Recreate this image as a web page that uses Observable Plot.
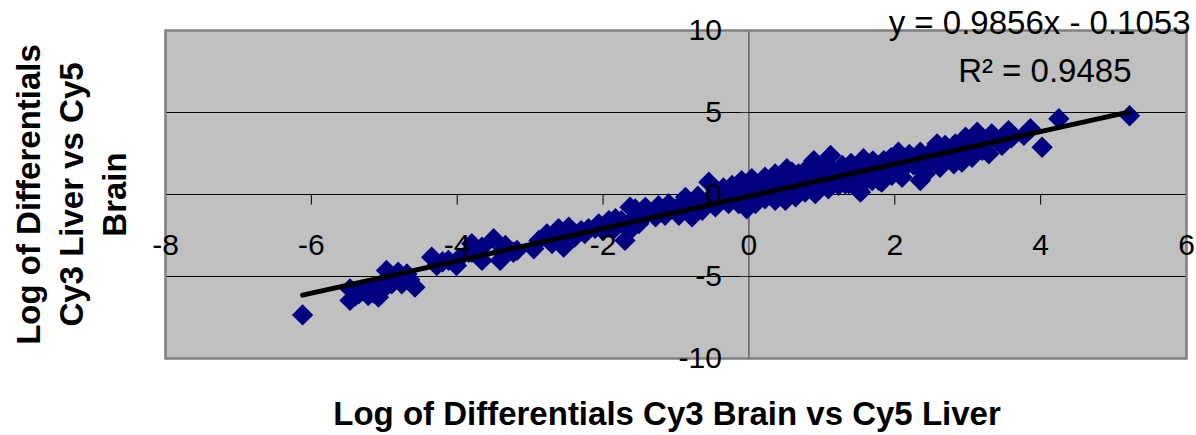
<!DOCTYPE html>
<html>
<head>
<meta charset="utf-8">
<script src="https://cdn.jsdelivr.net/npm/d3@7"></script>
<script src="https://cdn.jsdelivr.net/npm/@observablehq/plot@0.6"></script>
<style>
  html, body { margin: 0; padding: 0; background: #ffffff; }
  #chart { width: 1196px; height: 435px; overflow: hidden; }
</style>
</head>
<body>
<div id="chart"></div>
<script>
// Log differentials: Cy3 Brain vs Cy5 Liver (x) against Cy3 Liver vs Cy5 Brain (y)
const brainVsLiver = [
  -6.12, -5.47, -5.47, -5.40, -5.35, -5.31, -5.25, -5.22, -5.15, -5.13,
  -5.08, -5.03, -5.00, -4.97, -4.90, -4.85, -4.81, -4.76, -4.69, -4.65,
  -4.58, -4.35, -4.28, -4.20, -4.12, -4.01, -3.98, -3.84, -3.80, -3.80,
  -3.66, -3.66, -3.50, -3.41, -3.39, -3.34, -3.23, -3.18, -2.95, -2.88,
  -2.77, -2.70, -2.65, -2.61, -2.54, -2.52, -2.47, -2.39, -2.30, -2.25,
  -2.20, -2.11, -2.06, -2.00, -1.95, -1.92, -1.85, -1.83, -1.75, -1.70,
  -1.70, -1.63, -1.60, -1.60, -1.56,
  -1.56, -1.42, -1.24, -1.10, -0.87, -0.70, -0.55, -0.45, -0.35, -0.23,
  -0.10, 0.04, 0.22, 0.36, 0.52, 0.68,
  -1.51, -1.28, -1.15, -0.96, -0.78, -0.64, -0.46, -0.28, -0.14, -0.03,
  0.09, 0.22, 0.36, 0.50, 0.64,
  -1.50, -1.38, -1.30, -1.20, -1.10, -1.02, -0.95, -0.88, -0.80, -0.72,
  -0.65, -0.58, -0.52, -0.44, -0.38, -0.30, -0.24, -0.17, -0.11, -0.06,
  0.00, 0.06, 0.11, 0.16, 0.23, 0.28, 0.34, 0.40, 0.45, 0.48,
  0.56, 0.60, 0.66,
  0.59, 0.78, 0.89, 1.00, 1.12, 1.28, 1.40, 1.57, 1.70, 1.85,
  1.95, 2.05, 2.20, 2.35,
  0.77, 0.91, 1.09, 1.23, 1.37, 1.51, 1.60, 1.78, 1.96, 2.10,
  1.53, 1.32, 1.69, 1.82,
  0.74, 0.80, 0.86, 0.93, 0.98, 1.04, 1.10, 1.16, 1.22, 1.30,
  1.35, 1.44, 1.50, 1.56, 1.63, 1.70, 1.76, 1.83, 1.90, 1.98,
  2.04, 2.12, 2.18,
  2.58, 2.69, 2.88, 2.83, 2.97,
  2.35, 2.42, 2.49, 2.62, 2.81, 2.92,
  2.26, 2.30, 2.40, 2.45, 2.52, 2.55, 2.64, 2.70, 2.75, 2.85,
  2.92, 3.00,
  3.06, 3.13, 3.10, 3.20, 3.29, 3.33, 3.25, 3.40, 3.47, 3.56,
  3.60, 3.77, 3.86, 4.02, 4.25, 5.22
];
const liverVsBrain = [
  -7.34, -5.75, -6.46, -6.20, -6.05, -5.85, -5.90, -6.16, -6.00, -5.65,
  -6.26, -5.85, -5.30, -4.63, -5.45, -5.10, -4.74, -5.45, -4.84, -5.20,
  -5.65, -3.82, -4.33, -4.10, -4.02, -4.33, -3.92, -3.52, -3.00, -3.52,
  -3.21, -4.02, -2.70, -4.02, -3.52, -3.11, -3.52, -3.41, -3.31, -2.80,
  -2.40, -3.00, -2.60, -2.09, -3.21, -2.30, -1.99, -2.60, -2.20, -2.38,
  -2.09, -2.07, -1.79, -2.20, -1.95, -1.59, -2.10, -1.48, -1.60, -2.80,
  -1.95, -0.77, -1.70, -2.05, -1.38,
  -0.88, -0.78, -0.68, -0.58, -0.17, -0.10, 0.75, 0.25, 0.40, 0.55,
  0.85, 0.96, 1.05, 1.26, 1.57, 1.26,
  -1.78, -1.37, -1.27, -1.27, -1.37, -0.96, -0.76, -0.56, -0.56, -0.87,
  -0.56, -0.26, -0.36, -0.36, -0.15,
  -1.30, -1.10, -1.05, -1.00, -0.95, -0.90, -0.70, -0.80, -0.55, -0.70,
  -0.40, -0.50, -0.20, -0.35, 0.05, -0.20, 0.15, -0.10, 0.40, 0.05,
  0.40, -0.20, 0.55, 0.15, 0.60, 0.20, 0.75, 0.30, 1.00, 0.10,
  0.70, 0.30, 0.90,
  1.36, 1.50, 2.07, 1.75, 2.38, 1.77, 1.90, 2.18, 2.05, 2.07,
  2.25, 2.58, 2.45, 2.58,
  0.15, 0.05, 0.35, 0.56, 0.66, 0.26, 0.87, 0.87, 1.17, 1.05,
  0.14, 0.65, 0.85, 0.75,
  0.75, 1.05, 0.50, 1.30, 0.80, 1.10, 1.65, 0.95, 1.35, 1.10,
  1.55, 1.20, 1.70, 0.90, 1.40, 1.20, 1.65, 1.30, 1.75, 1.50,
  2.00, 1.60, 2.10,
  3.09, 2.99, 2.88, 3.09, 3.49,
  0.85, 1.26, 1.97, 1.66, 1.87, 1.97,
  1.80, 2.20, 1.95, 2.40, 2.25, 2.70, 2.40, 2.10, 2.65, 2.40,
  2.65, 2.90,
  2.27, 3.80, 3.20, 2.70, 2.48, 3.70, 3.35, 3.30, 2.99, 3.90,
  3.45, 3.60, 4.01, 2.88, 4.62, 4.80
];

// Linear trendline fitted to the series
const slope = 0.9856;
const intercept = -0.1053;
const rSquared = 0.9485;

const xTicks = [-8, -6, -4, -2, 0, 2, 4, 6];
const yTicks = [-10, -5, 0, 5, 10];
const gridY = [-5, 5];

const xTitle = "Log of Differentials Cy3 Brain vs Cy5 Liver";
const yTitle = "Log of Differentials\nCy3 Liver vs Cy5\nBrain";

const points = brainVsLiver.map((x, i) => ({x, y: liverVsBrain[i]}));
const trend = d3.extent(brainVsLiver).map((x) => ({x, y: slope * x + intercept}));
const equation = `y = ${slope}x ${intercept < 0 ? "-" : "+"} ${Math.abs(intercept)}`;
const rLabel = `R\u00B2 = ${rSquared}`;

const font = "'Liberation Sans', Arial, Helvetica, sans-serif";

const chart = Plot.plot({
  width: 1196,
  height: 435,
  marginLeft: 165,
  marginRight: 10,
  marginTop: 30,
  marginBottom: 77,
  style: {fontFamily: font, background: "#ffffff", overflow: "visible"},
  x: {domain: [-8, 6], axis: null},
  y: {domain: [-10, 10], axis: null},
  marks: [
    Plot.frame({fill: "#c0c0c0"}),
    Plot.ruleY(gridY, {stroke: "#000000", strokeWidth: 1}),
    // axes crossing at the origin
    Plot.ruleY([0], {stroke: "#000000", strokeWidth: 1}),
    Plot.ruleX([0], {y1: -10, y2: 10, stroke: "#333333", strokeWidth: 1}),
    Plot.ruleX(xTicks, {y1: 0, y2: -0.65, stroke: "#000000", strokeWidth: 1}),
    Plot.ruleY(yTicks, {x1: -0.11, x2: 0, stroke: "#333333", strokeWidth: 1}),
    Plot.frame({stroke: "#808080", strokeWidth: 2.5}),
    Plot.dot(points, {x: "x", y: "y", symbol: "diamond2", r: 9.6, fill: "#000080", stroke: "none"}),
    Plot.line(trend, {x: "x", y: "y", stroke: "#000000", strokeWidth: 5}),
    // tick labels
    Plot.text(xTicks, {x: (d) => d, y: 0, dy: 51, text: (d) => String(d), fontSize: 30, fill: "#000000", textAnchor: "middle", lineAnchor: "middle"}),
    Plot.text(yTicks, {x: 0, y: (d) => d, dx: -27, text: (d) => String(d), fontSize: 30, fill: "#000000", textAnchor: "end", lineAnchor: "middle"}),
    // regression annotation
    Plot.text([equation], {frameAnchor: "top-right", dx: 4, dy: -7, fontSize: 33, fill: "#000000", textAnchor: "end", lineAnchor: "middle"}),
    Plot.text([rLabel], {frameAnchor: "top-right", dx: -55, dy: 41, fontSize: 33, fill: "#000000", textAnchor: "end", lineAnchor: "middle"}),
    // axis titles
    Plot.text([xTitle], {frameAnchor: "bottom", dx: -9, dy: 56, fontSize: 33, fontWeight: "bold", fill: "#000000", textAnchor: "middle", lineAnchor: "middle"}),
    Plot.text([yTitle], {frameAnchor: "left", dx: -96, rotate: -90, lineHeight: 1.3, fontSize: 33, fontWeight: "bold", fill: "#000000", textAnchor: "middle", lineAnchor: "middle"})
  ]
});

document.getElementById("chart").appendChild(chart);
</script>
</body>
</html>
